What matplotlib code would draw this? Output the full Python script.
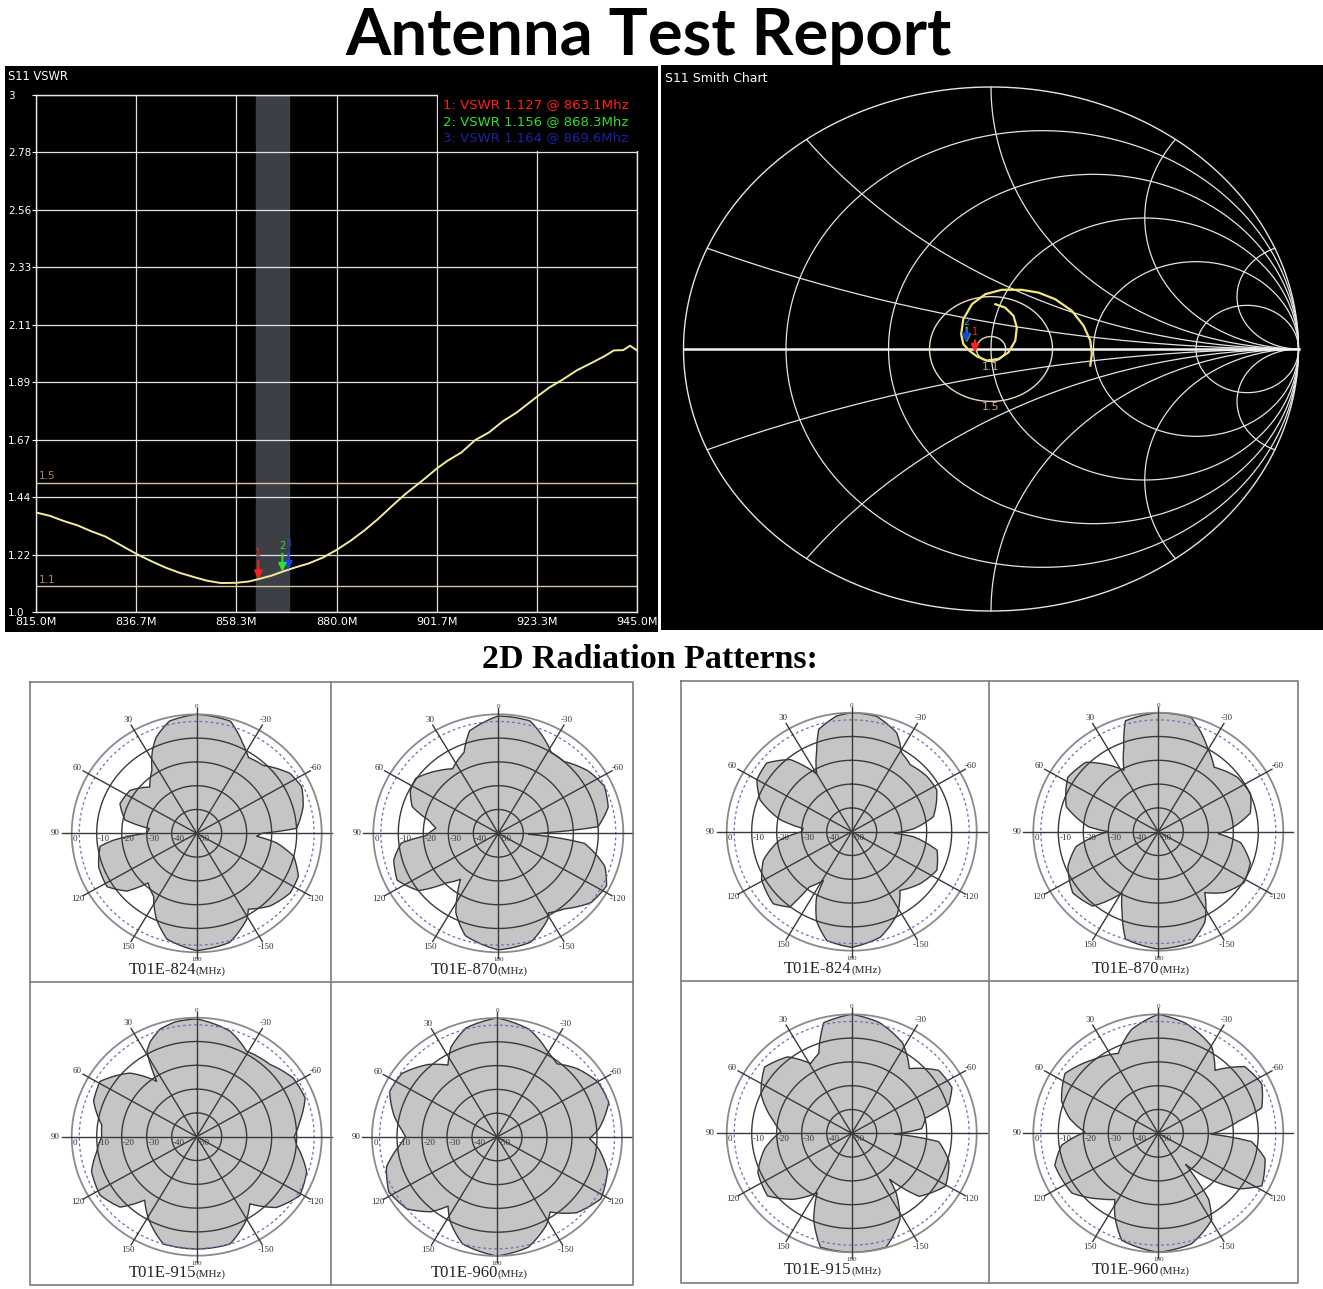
import numpy as np
import matplotlib
matplotlib.use("Agg")
import matplotlib.pyplot as plt
from matplotlib.patches import Rectangle, PathPatch
from matplotlib.path import Path
from matplotlib.lines import Line2D

# ------------------------------------------------------------------ data
vswr_freq = [815.0, 818, 821, 824, 827, 830, 833, 836.7, 840, 843, 846, 849, 852, 855,
             858.3, 861, 863.1, 866, 868.3, 871, 874, 877, 880, 883, 886, 889, 892, 895,
             898, 901.7, 904, 907, 910, 913, 916, 919, 923.3, 926, 929, 932, 935, 938,
             940, 942, 943.5, 945.0]
vswr_val = [1.385, 1.372, 1.352, 1.335, 1.312, 1.292, 1.262, 1.225, 1.196, 1.172, 1.152,
            1.136, 1.121, 1.112, 1.113, 1.118, 1.127, 1.141, 1.156, 1.172, 1.188, 1.21,
            1.24, 1.275, 1.315, 1.36, 1.41, 1.458, 1.5, 1.555, 1.585, 1.617, 1.665, 1.695,
            1.738, 1.772, 1.832, 1.868, 1.9, 1.935, 1.962, 1.99, 2.012, 2.013, 2.03, 2.012]
x_tick_labels = ["815.0M", "836.7M", "858.3M", "880.0M", "901.7M", "923.3M", "945.0M"]
y_tick_labels = ["1.0", "1.22", "1.44", "1.67", "1.89", "2.11", "2.33", "2.56", "2.78", "3"]
marker_freq = [863.1, 868.3, 869.6]
marker_vswr = [1.127, 1.156, 1.164]
marker_colors = ["#ff1f1f", "#2fe02f", "#1f3fe0"]
band_lo, band_hi = 862.6, 869.7
ref_levels = [1.5, 1.1]

# Smith chart trace (reflection coefficient, 815 -> 945 MHz)
s11_re = [0.014, 0.046, 0.073, 0.084, 0.079, 0.057, 0.024, -0.014, -0.046, -0.071, -0.090,
          -0.097, -0.090, -0.062, -0.019, 0.035, 0.100, 0.155, 0.209, 0.263, 0.301, 0.323,
          0.328, 0.323]
s11_im = [0.171, 0.158, 0.127, 0.082, 0.032, -0.013, -0.038, -0.044, -0.028, -0.006, 0.019,
          0.057, 0.114, 0.171, 0.209, 0.226, 0.226, 0.215, 0.190, 0.146, 0.089, 0.032,
          -0.019, -0.063]
smith_marker_re = [-0.052, -0.079, -0.081]
smith_marker_im = [-0.014, 0.024, 0.026]
smith_r_values = [0.2, 0.5, 1.0, 2.0, 5.0]
smith_x_values = [0.2, 0.5, 1.0, 2.0, 5.0]

# radiation patterns (angle deg, gain dB)
L824_th = [-180, -164, -151, -147, -136, -124, -114, -104, -97, -93, -90, -87, -75, -65, -56,
           -43, -33, -26, -16, 0, 13, 22, 27, 34, 44, 56, 68, 79, 84, 90, 95, 98, 110, 122,
           131, 137, 147, 156, 165, 180]
L824_db = [-0.7, -2.3, -8.7, -12, -7.6, -5, -5.5, -10, -18, -26, -24, -10, -5.9, -3.7, -5,
           -11, -12, -8, -1, 0, -1.6, -6.6, -11, -18, -23, -17.8, -16.9, -20.8, -31, -30,
           -16.5, -11, -8.3, -7.7, -13, -21.5, -18.4, -10.5, -4, -0.7]
L870_th = [-180, -164, -151, -149, -140, -128, -117, -108, -97, -92, -89, -86, -76, -65, -54,
           -41, -32, -24, -15, 0, 15, 22, 34, 42, 55, 63, 72, 79, 85, 92, 96, 105, 116, 127,
           135, 142, 148, 153, 163, 180]
L870_db = [-1, -2.5, -9, -11, -8.6, -2.8, -1.4, -5.2, -15.3, -38, -30, -10, -4.7, -3.2, -5.5,
           -10, -10, -5.8, -1.1, -0.7, -5.5, -13.4, -17.3, -14.5, -9.7, -10.5, -13.8, -21.8,
           -25, -21, -11, -6.7, -5, -10, -20.5, -25.5, -19, -12.6, -5, -1]
L915_th = [-180, -163.5, -150, -143, -133, -121, -108.6, -95, -90, -81, -69.5, -57.5, -44,
           -29, -16.8, 0, 10, 18, 25, 29, 34.5, 45, 59, 70, 82.6, 90, 99, 109, 122.5, 134,
           142, 151, 163.5, 180]
L915_db = [-2.8, -3, -10, -14.7, -6.4, -1.9, -3.6, -9.9, -11, -8.2, -3.7, -4.2, -7.8, -8.9,
           -3.7, -0.5, -1, -2.5, -6, -8.9, -21.8, -12.2, -4.9, -6.1, -11.7, -12, -9.5, -5.5,
           -4.2, -7.4, -16.2, -10.4, -3, -2.8]
L960_th = [-180, -165, -152, -146, -135, -122, -108, -97, -91, -85, -72, -60, -48, -38, -30,
           -16, 0, 15, 26, 33, 42, 55, 66, 78, 86, 90, 95, 106, 118, 130, 140, 146, 152, 163,
           180]
L960_db = [0, -2, -8, -12, -5, -1, -3.5, -9, -13, -9, -3, -3.5, -7, -11, -9, -3, 0, -2.5, -8,
           -14, -9, -3.5, -3, -8, -12, -13.5, -11, -4, -1, -3, -9, -15, -10, -3, 0]
R824_th = [-180, -165.6, -152, -142, -128.6, -115.5, -102.8, -95, -92, -87, -79, -62.6, -52,
           -39.7, -31, -23.4, -11.6, 0, 7, 17, 22.5, 30, 39, 49.7, 60, 70, 80, 86, 90, 97,
           108.7, 119.6, 134, 142, 144, 151, 153, 159.4, 167.7, 180]
R824_db = [-1.4, -4.2, -11, -18.7, -15, -12.3, -15, -25, -33, -25, -16.7, -11.7, -12, -13.4,
           -11.3, -4.7, -0.5, 0, -1, -5, -13.4, -22, -11, -5.4, -6.2, -11, -21, -30.6, -30,
           -21, -12.7, -8.6, -6.4, -9.8, -21.4, -26.6, -19, -10, -3.2, -1.4]
R870_th = [-180, -164, -154, -144, -134, -122, -109.7, -98, -92, -86, -78, -66.6, -54, -39.5,
           -29, -15.4, 0, 15.8, 21.3, 28, 38, 44.8, 57.7, 74, 85.7, 90, 95, 100.8, 112, 127,
           140, 150.6, 157, 163.8, 180]
R870_db = [-0.7, -1.6, -7.6, -18.4, -13.2, -9.6, -10.9, -16.7, -26, -19.7, -12.4, -9.8, -11,
           -14.9, -9.5, -0.3, 0, -1.6, -12, -20.8, -13.8, -8.9, -7.2, -11.7, -22, -30, -23.7,
           -16.5, -11, -7.2, -9.2, -20.5, -13, -3, -0.7]
R915_th = [-180, -164, -152, -144.6, -141.9, -134.5, -120.6, -107, -95.8, -91, -86, -77.7,
           -72.6, -64.3, -52.8, -40.3, -28.3, -13.5, 0, 13.5, 21.4, 29.3, 38.6, 51.4, 65.6,
           80, 88.6, 100.5, 113.7, 128, 140, 151, 157.4, 165.4, 180]
R915_db = [0, -0.2, -8.9, -19.3, -25.5, -12.2, -6.4, -9.3, -15, -33, -22, -19.7, -9.3, -5.5,
           -6.3, -14.4, -7, -2.2, 0, -2.2, -14, -16.4, -8.9, -5.4, -10.2, -18, -21.7, -14.6,
           -9, -7.3, -13.8, -21.5, -10.5, -0.5, 0]
R960_th = [-180, -164, -149.6, -144, -140, -126, -118, -104, -95.4, -91, -81, -75.5, -63.4,
           -51, -40.6, -30.4, -13, 0, 13.8, 25.5, 41, 56, 70.7, 80, 89, 97.4, 108, 126, 140,
           148, 153.6, 162, 180]
R960_db = [0, -1.7, -7.8, -15.7, -33, -10.3, -3.1, -6, -12.5, -29, -17.6, -7.3, -3.7, -5.5,
           -15.2, -7.8, -2.4, 0, -5.1, -12.8, -9.3, -5, -9, -14, -20.7, -11, -6.5, -7.3, -14,
           -17.2, -11, -2.7, 0]
pattern_names = ["T01E-824", "T01E-870", "T01E-915", "T01E-960"]
radial_levels = [0, -10, -20, -30, -40, -50]
angle_labels = [0, 30, 60, 90, 120, 150, 180, -30, -60, -120, -150]

# ------------------------------------------------------------------ figure
W, H = 1323, 1289
fig = plt.figure(figsize=(W / 100, H / 100), dpi=100)
fig.patch.set_facecolor("white")


def add_ax_px(x0, y0, x1, y1, **kw):
    return fig.add_axes([x0 / W, 1 - y1 / H, (x1 - x0) / W, (y1 - y0) / H], **kw)


def blank(ax, color):
    ax.set_facecolor(color)
    ax.set_xticks([])
    ax.set_yticks([])
    for s in ax.spines.values():
        s.set_visible(False)


def fig_line(xs, ys, **kw):
    fig.add_artist(Line2D([x / W for x in xs], [1 - y / H for y in ys],
                          transform=fig.transFigure, **kw))


fig.text(648 / W, 1 - 36 / H, "Antenna Test Report", ha="center", va="center",
         fontsize=47, fontweight="bold", family="Lato", color="black")

# ------------------------------------------------------------------ VSWR panel
bg1 = add_ax_px(5, 66, 658, 632)
blank(bg1, "black")
ax = add_ax_px(36, 95, 637, 612)
ax.set_facecolor("black")
ax.set_xlim(815, 945)
ax.set_ylim(1.0, 3.0)
xt = np.linspace(815, 945, len(x_tick_labels))
yt = np.linspace(1.0, 3.0, len(y_tick_labels))
ax.set_xticks(xt, x_tick_labels)
ax.set_yticks(yt, y_tick_labels)
for lab in ax.get_yticklabels():
    lab.set_horizontalalignment("left")
ax.tick_params(axis="y", length=3, pad=17.2, colors="white", labelsize=7.5, width=0.8)
ax.tick_params(axis="x", length=0, pad=3.5, colors="white", labelsize=8)
for lab in ax.get_xticklabels():
    lab.set_clip_box(bg1.bbox)
    lab.set_clip_on(True)
ax.set_axisbelow("line")
ax.grid(True, color="#e2e2e2", lw=0.9)
for s in ax.spines.values():
    s.set_color("#e8e8e8")
    s.set_linewidth(1.0)
ax.axvspan(band_lo, band_hi, color="#3c3f45", zorder=1)
for lev in ref_levels:
    ax.axhline(lev, color="#d8c3a0", lw=1.0, zorder=1.8)
    ax.text(815.6, lev + 0.005, f"{lev:.1f}", color="#a8826a", fontsize=7.5,
            va="bottom", ha="left", zorder=4)
ax.plot(vswr_freq, vswr_val, color="#f3ec9a", lw=1.4, zorder=3)
ax.add_patch(Rectangle((902.0, 2.785), 47.3, 0.3, facecolor="black", edgecolor="none",
                       zorder=2.7, clip_on=False))
for i in [2, 1, 0]:
    ax.annotate(str(i + 1), xy=(marker_freq[i], marker_vswr[i]), xytext=(0, 15),
                textcoords="offset points", ha="center", va="bottom",
                color=marker_colors[i], fontsize=7, zorder=5,
                arrowprops=dict(arrowstyle="-|>", color=marker_colors[i], lw=1.4,
                                mutation_scale=12, shrinkA=0, shrinkB=0))
for i in range(3):
    fig.text(443 / W, 1 - (105 + 16.5 * i) / H,
             f"{i + 1}: VSWR {marker_vswr[i]:.3f} @ {marker_freq[i]:.1f}Mhz",
             color=marker_colors[i] if i < 2 else "#1a22a8", fontsize=9.5,
             ha="left", va="center", family="DejaVu Sans")
fig.text(8 / W, 1 - 77 / H, "S11 VSWR", color="white", fontsize=8.3, ha="left", va="center")

# ------------------------------------------------------------------ Smith chart
bg2 = add_ax_px(661, 65, 1323, 630)
blank(bg2, "black")
sx0, sx1, sy0, sy1 = 661, 1323, 65, 630
scx, scy, srx, sry = 991.0, 349.0, 307.5, 262.0
sax = add_ax_px(sx0, sy0, sx1, sy1)
blank(sax, "none")
sax.set_xlim((sx0 - scx) / srx, (sx1 - scx) / srx)
sax.set_ylim(-(sy1 - scy) / sry, (scy - sy0) / sry)
gc = "#e4e4e4"
t = np.linspace(0, 2 * np.pi, 721)
sax.plot(np.cos(t), np.sin(t), color=gc, lw=1.0)
for r in smith_r_values:
    c, rad = r / (1 + r), 1 / (1 + r)
    sax.plot(c + rad * np.cos(t), rad * np.sin(t), color=gc, lw=0.9)
rr = np.concatenate([[0.0], np.logspace(-3, 4, 800)])
for xv in smith_x_values:
    for sgn in (1, -1):
        g = (rr + 1j * sgn * xv - 1) / (rr + 1j * sgn * xv + 1)
        sax.plot(g.real, g.imag, color=gc, lw=0.9)
sax.plot([-1, 1], [0, 0], color="#f2f2f2", lw=1.8)
for s_val in ref_levels:
    gm = (s_val - 1) / (s_val + 1)
    sax.plot(gm * np.cos(t), gm * np.sin(t), color="#e6dcc8", lw=1.0)
    sax.annotate(f"{s_val:.1f}", xy=(0, -gm), xytext=(0, -4), textcoords="offset points",
                 ha="center", va="center", color="#caa886", fontsize=8)
sax.plot(s11_re, s11_im, color="#f2e77a", lw=1.6, zorder=4)
for i, lab, lc in [(1, "", "#2fe02f"), (2, "2", "#4f86e0"), (0, "1", "#ff1f1f")]:
    sax.annotate(lab, xy=(smith_marker_re[i], smith_marker_im[i]), xytext=(0, 11),
                 textcoords="offset points", ha="center", va="bottom",
                 color=lc, fontsize=7, zorder=5,
                 arrowprops=dict(arrowstyle="-|>", color=marker_colors[i], lw=1.4,
                                 mutation_scale=12, shrinkA=0, shrinkB=0))
fig.text(665 / W, 1 - 78 / H, "S11 Smith Chart", color="white", fontsize=9,
         ha="left", va="center")

# ------------------------------------------------------------------ radiation patterns
fig.text(650 / W, 1 - 660 / H, "2D Radiation Patterns:", ha="center", va="center",
         fontsize=24.5, fontweight="bold", family="Liberation Serif")

box_c = "#7c7c7c"
for (x0, y0, x1, y1, xm, ym) in [(30, 682, 633, 1285, 331, 982),
                                  (681, 681, 1298, 1283, 989, 981)]:
    fig_line([x0, x1, x1, x0, x0], [y0, y0, y1, y1, y0], color=box_c, lw=1.2)
    fig_line([xm, xm], [y0, y1], color=box_c, lw=1.2)
    fig_line([x0, x1], [ym, ym], color=box_c, lw=1.2)

RX, RY, RMIN, RMAX = 125.0, 119.0, -50.0, 8.0
serif = "Liberation Serif"


def draw_pattern(cx, cy, th_deg, gain, name, cap_x, cap_y):
    hw = RX * (RMAX - RMIN) / (-RMIN)
    hh = RY * (RMAX - RMIN) / (-RMIN)
    pax = add_ax_px(cx - hw, cy - hh, cx + hw, cy + hh, projection="polar")
    pax.set_aspect("auto")
    pax.set_theta_zero_location("N")
    pax.set_theta_direction(1)
    pax.set_ylim(RMIN, RMAX)
    pax.set_xticks([])
    pax.set_yticks([])
    pax.grid(False)
    pax.spines["polar"].set_visible(False)
    pax.patch.set_visible(False)
    verts = np.column_stack([np.deg2rad(th_deg), gain])
    pax.add_patch(PathPatch(Path(verts, _interpolation_steps=24), facecolor="#c5c5c5",
                            edgecolor="#383838", lw=1.0, zorder=2))
    cc = np.linspace(0, 2 * np.pi, 361)
    for lev in radial_levels[1:-1]:
        pax.plot(cc, np.full_like(cc, lev), color="#3a3a3a", lw=1.0, zorder=3)
    pax.plot(cc, np.zeros_like(cc), color="#8a8a8a", lw=1.3, zorder=3)
    pax.plot(cc, np.full_like(cc, -3.0), color="#6d6db5", lw=0.9, ls=(0, (2.2, 2.2)),
             zorder=3)
    for a in range(0, 360, 30):
        ext = 4.0 if a in (90, 270) else 2.5
        pax.plot([np.deg2rad(a)] * 2, [RMIN, ext], color="#3a3a3a", lw=1.0, zorder=3)
    for a in angle_labels:
        rl = 6.5 if a == 90 else (3.2 if a in (0, 180) else 5.0)
        pax.text(np.deg2rad(a), rl, str(a), ha="center", va="center",
                 fontsize=6.5 if a not in (0, 180) else 5,
                 family=serif, color="#333333", zorder=4)
    for lev in radial_levels:
        pax.annotate(str(lev), xy=(np.pi / 2, lev), xytext=(1, -1.5),
                     textcoords="offset points", ha="left", va="top", fontsize=6.5,
                     family=serif, color="#333333", zorder=4)
    fig.text(cap_x / W, 1 - cap_y / H, name, ha="right", va="baseline",
             fontsize=12, family=serif, color="#222222")
    fig.text(cap_x / W, 1 - cap_y / H, "(MHz)", ha="left", va="baseline",
             fontsize=8, family=serif, color="#222222")


patterns = [
    (196.7, 833.3, L824_th, L824_db, pattern_names[0], 196, 974),
    (498.3, 833.3, L870_th, L870_db, pattern_names[1], 498, 974),
    (196.7, 1136.7, L915_th, L915_db, pattern_names[2], 196, 1277),
    (497.0, 1137.0, L960_th, L960_db, pattern_names[3], 498, 1277),
    (851.7, 831.7, R824_th, R824_db, pattern_names[0], 851, 973),
    (1158.3, 831.7, R870_th, R870_db, pattern_names[1], 1159, 973),
    (851.7, 1133.3, R915_th, R915_db, pattern_names[2], 851, 1274),
    (1158.3, 1133.3, R960_th, R960_db, pattern_names[3], 1159, 1274),
]
for p in patterns:
    draw_pattern(*p)

fig.savefig("out.png", dpi=100, facecolor="white")
